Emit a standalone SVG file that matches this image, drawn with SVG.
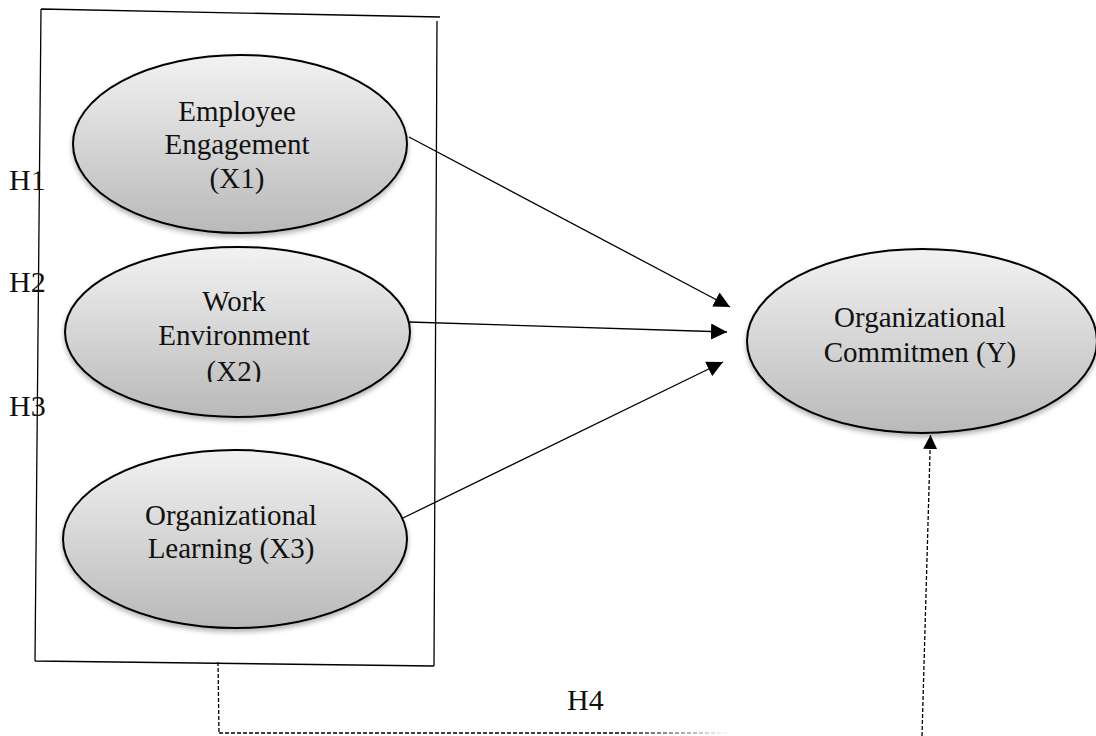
<svg xmlns="http://www.w3.org/2000/svg" width="1096" height="736" viewBox="0 0 1096 736">
  <style>
    .node { fill: url(#gray); stroke: #000; stroke-width: 2; filter: url(#shadow); }
    .lbl { font-family: "Liberation Serif", "Times New Roman", serif; font-size: 29px; fill: #111; text-anchor: middle; }
    .h { font-family: "Liberation Serif", "Times New Roman", serif; font-size: 30px; fill: #111; }
    .edge { stroke: #000; stroke-width: 1.3; fill: none; }
    .dash { stroke: #000; stroke-width: 1.3; fill: none; stroke-dasharray: 4 2; }
  </style>
  <defs>
    <linearGradient id="gray" x1="0" y1="0" x2="0" y2="1">
      <stop offset="0" stop-color="#f2f2f2"/>
      <stop offset="1" stop-color="#b9b9b9"/>
    </linearGradient>
    <linearGradient id="fade" gradientUnits="userSpaceOnUse" x1="218" y1="0" x2="732" y2="0">
      <stop offset="0.78" stop-color="#000"/>
      <stop offset="1" stop-color="#000" stop-opacity="0"/>
    </linearGradient>
    <filter id="shadow" x="-10%" y="-10%" width="120%" height="130%">
      <feDropShadow dx="0" dy="3" stdDeviation="2.5" flood-color="#000" flood-opacity="0.3"/>
    </filter>
    <marker id="arrow" viewBox="0 0 10 10" refX="10" refY="5" markerWidth="14" markerHeight="14" markerUnits="userSpaceOnUse" orient="auto">
      <path d="M0,0 L10,5 L0,10 Z" fill="#000"/>
    </marker>
    <marker id="arrowBig" viewBox="0 0 10 10" refX="10" refY="5" markerWidth="16" markerHeight="16" markerUnits="userSpaceOnUse" orient="auto">
      <path d="M0,0 L10,5 L0,10 Z" fill="#000"/>
    </marker>
    <clipPath id="clipX2">
      <rect x="0" y="0" width="1096" height="382"/>
    </clipPath>
  </defs>

  <!-- frame around the independent variables -->
  <g id="frame">
    <path class="edge" d="M41,9 L440,17 M437,21 L434,666 M434,666 L35,661 M35,661 L41,9"/>
  </g>

  <!-- hypothesis labels -->
  <g id="hypotheses">
    <text class="h" x="9" y="190">H1</text>
    <text class="h" x="9" y="292">H2</text>
    <text class="h" x="9" y="416">H3</text>
    <text class="h" x="567" y="710">H4</text>
  </g>

  <g id="connectors">
    <line class="edge" x1="409" y1="137" x2="730" y2="307" marker-end="url(#arrowBig)"/>
    <line class="edge" x1="409" y1="322" x2="727" y2="332" marker-end="url(#arrowBig)"/>
    <line class="edge" x1="403" y1="518" x2="723" y2="362" marker-end="url(#arrowBig)"/>
    <polyline class="dash" points="218,662 219,733"/>
    <line x1="219" y1="733" x2="732" y2="733" stroke="url(#fade)" stroke-width="1.5" stroke-dasharray="4 2"/>
    <line class="dash" x1="922" y1="736" x2="930.5" y2="435" marker-end="url(#arrow)"/>
  </g>

  <g id="x1">
    <ellipse class="node" cx="240" cy="144" rx="167" ry="89"/>
    <text class="lbl" x="237" y="121">Employee</text>
    <text class="lbl" x="237" y="154">Engagement</text>
    <text class="lbl" x="237" y="188">(X1)</text>
  </g>

  <g id="x2">
    <ellipse class="node" cx="237.5" cy="332" rx="172.5" ry="85"/>
    <text class="lbl" x="234" y="311">Work</text>
    <text class="lbl" x="234" y="345">Environment</text>
    <text class="lbl" x="234" y="381" clip-path="url(#clipX2)">(X2)</text>
  </g>

  <g id="x3">
    <ellipse class="node" cx="235" cy="539" rx="172" ry="89"/>
    <text class="lbl" x="231" y="525">Organizational</text>
    <text class="lbl" x="231" y="558">Learning (X3)</text>
  </g>

  <g id="y">
    <ellipse class="node" cx="922" cy="341" rx="175" ry="92"/>
    <text class="lbl" x="920" y="327">Organizational</text>
    <text class="lbl" x="920" y="362">Commitmen (Y)</text>
  </g>
</svg>
